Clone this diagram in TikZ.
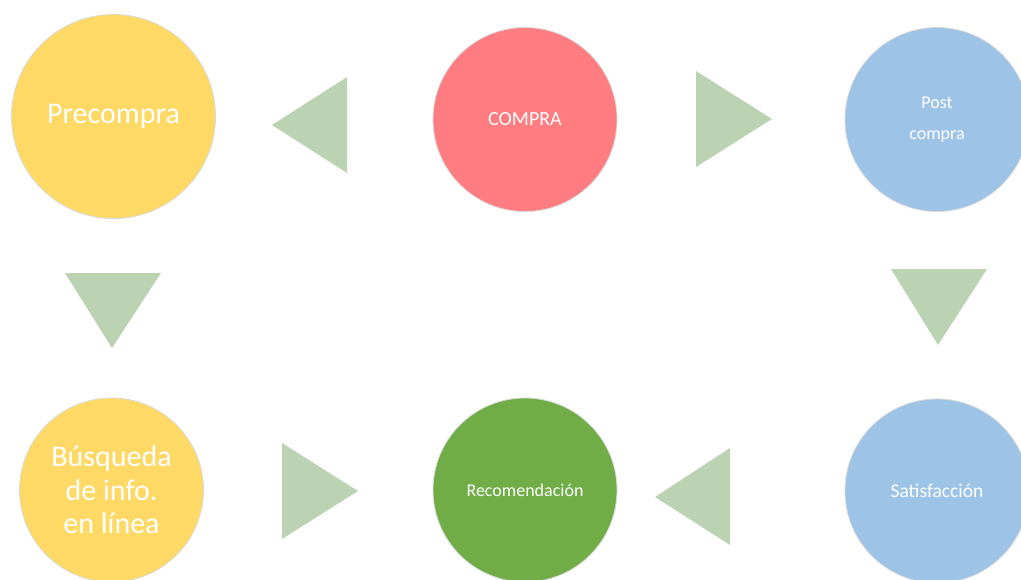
\documentclass[tikz,border=0pt]{standalone}
\usepackage{fontspec}
\setmainfont{Carlito}

\definecolor{amarillo}{HTML}{FFD966}
\definecolor{rojo}{HTML}{FF7C80}
\definecolor{azul}{HTML}{9DC3E6}
\definecolor{verde}{HTML}{70AD47}
\definecolor{flecha}{HTML}{BBD3B3}

\begin{document}
\begin{tikzpicture}[x=1pt,y=-1pt,
    etapa/.style={circle, draw=black!15, line width=0.8pt, text=white, align=center, inner sep=0pt},
    punta/.style={fill=flecha}]
\useasboundingbox (0,0) rectangle (1021,579);

% Fila superior
\node [etapa, fill=amarillo, minimum size=204, font=\fontsize{30}{33}\selectfont] (pre) at (113.5,116.5) {Precompra};
\node [etapa, fill=rojo, minimum size=184, font=\fontsize{20}{24}\selectfont] (compra) at (525,119.5) {COMPRA};
\node [etapa, fill=azul, minimum size=184, font=\fontsize{18}{31}\selectfont] (post) at (937,119.5) {Post\\compra};

% Fila inferior
\node [etapa, fill=amarillo, minimum size=184, font=\fontsize{30}{33.5}\selectfont] (busqueda) at (111.5,490) {Búsqueda\\de info.\\en línea};
\node [etapa, fill=verde, minimum size=184, font=\fontsize{18}{22}\selectfont] (recom) at (525,490) {Recomendación};
\node [etapa, fill=azul, minimum size=184, font=\fontsize{19.5}{23}\selectfont] (satis) at (937,491) {Satisfacción};

% Flechas (triángulos)
\fill[punta] (347,77) -- (347,173) -- (272,125) -- cycle;
\fill[punta] (696,71) -- (696,167) -- (772,119) -- cycle;
\fill[punta] (65,273) -- (161,273) -- (112,348) -- cycle;
\fill[punta] (891,269) -- (987,269) -- (938,345) -- cycle;
\fill[punta] (282,443) -- (282,539) -- (358,491) -- cycle;
\fill[punta] (730,448) -- (730,545) -- (655,497) -- cycle;
\end{tikzpicture}
\end{document}
